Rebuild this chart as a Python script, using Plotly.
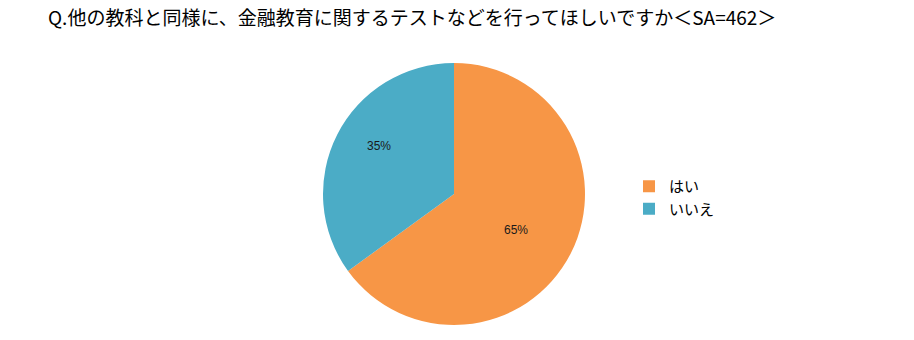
import math
import plotly.graph_objects as go

labels = ["はい", "いいえ"]
values = [65, 35]
colors = ["#F79646", "#4BACC6"]
title = "Q.他の教科と同様に、金融教育に関するテストなどを行ってほしいですか＜SA=462＞"

W, H = 914, 340
cx, cy, r = 454, 194, 131
label_radius = [0.55, 0.68]   # fraction of radius where each percent label sits
label_shift = [3, 5.6]        # small angular tweak (degrees) to mimic original placement

fig = go.Figure(go.Pie(
    labels=labels, values=values, sort=False, direction="clockwise", rotation=0,
    marker=dict(colors=colors, line=dict(width=0)),
    textinfo="none",
    domain=dict(x=[(cx - r) / W, (cx + r) / W], y=[1 - (cy + r) / H, 1 - (cy - r) / H]),
    hoverinfo="label+percent",
))

total = sum(values)
start = 0.0
annotations = []
for i, v in enumerate(values):
    mid = start + v / total * 360 / 2 + label_shift[i]
    start += v / total * 360
    a = math.radians(mid)
    px = cx + label_radius[i] * r * math.sin(a)
    py = cy - label_radius[i] * r * math.cos(a)
    annotations.append(dict(
        x=px / W, y=1 - py / H, xref="paper", yref="paper", showarrow=False,
        xanchor="center", yanchor="middle",
        text=f"{round(v / total * 100)}%",
        font=dict(size=12, color="#1a1a1a", family="Liberation Sans, Arial"),
    ))

fig.update_layout(
    width=W, height=H, margin=dict(l=0, r=0, t=0, b=0),
    paper_bgcolor="white", plot_bgcolor="white",
    title=dict(text=title, x=48 / W, xanchor="left", y=1 - 18 / H, yanchor="middle",
               font=dict(size=19, color="#000000", family="Noto Sans CJK JP")),
    legend=dict(x=629 / W, xanchor="left", y=1 - 170 / H, yanchor="top",
                font=dict(size=15, color="#000000", family="Noto Sans CJK JP"),
                itemwidth=30, bgcolor="rgba(0,0,0,0)"),
    annotations=annotations,
    showlegend=True,
)

fig.write_html("out.html")
